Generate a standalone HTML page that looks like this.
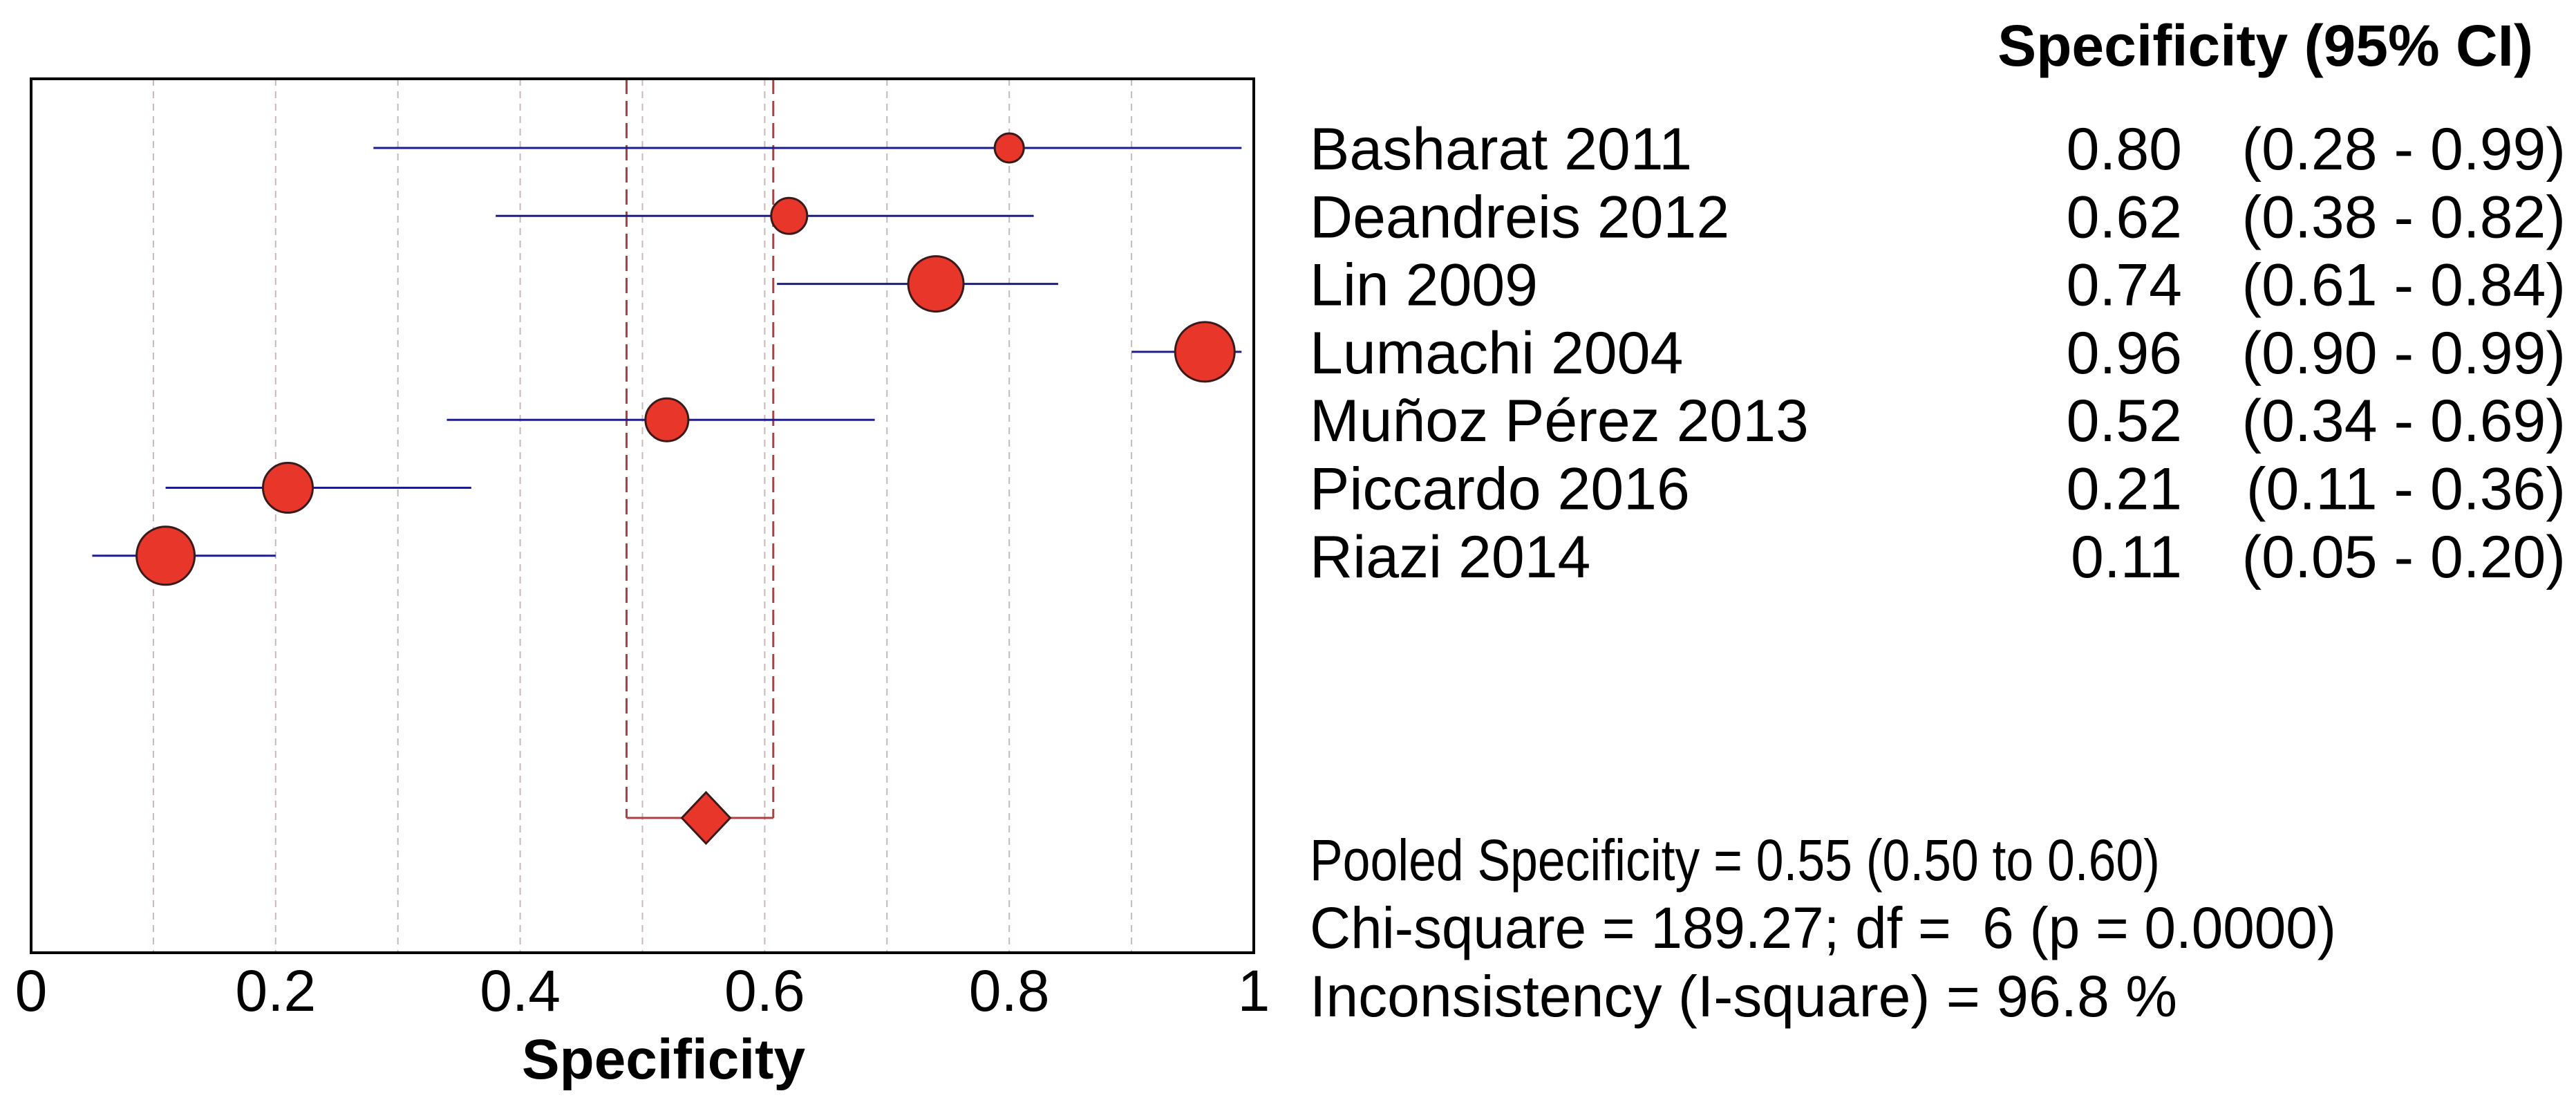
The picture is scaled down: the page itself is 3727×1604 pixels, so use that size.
<!DOCTYPE html>
<html><head><meta charset="utf-8"><style>
html,body{margin:0;padding:0;background:#fff;width:3727px;height:1604px;overflow:hidden}
svg{display:block}
text{font-family:"Liberation Sans",Arial,sans-serif;fill:#000}
</style></head><body>
<svg id="chart" width="3727" height="1604" viewBox="0 0 3727 1604">
<g id="grid"></g>
<g id="marks"></g>
<rect x="45" y="114" width="1769" height="1264" fill="none" stroke="#000" stroke-width="4"/>
<g id="ticks"></g>
<text x="960" y="1560" font-size="82" font-weight="bold" text-anchor="middle">Specificity</text>
<text x="3665" y="95" font-size="84" font-weight="bold" text-anchor="end">Specificity (95% CI)</text>
<g id="table"></g>
<text x="1895" y="1273" font-size="84" textLength="1230" lengthAdjust="spacingAndGlyphs">Pooled Specificity = 0.55 (0.50 to 0.60)</text>
<text x="1895" y="1371" font-size="84" xml:space="preserve" textLength="1485" lengthAdjust="spacingAndGlyphs">Chi-square = 189.27; df =  6 (p = 0.0000)</text>
<text x="1895" y="1470" font-size="84" textLength="1255" lengthAdjust="spacingAndGlyphs">Inconsistency (I-square) = 96.8 %</text>
</svg>
<script>
const studies=["Basharat 2011","Deandreis 2012","Lin 2009","Lumachi 2004","Muñoz Pérez 2013","Piccardo 2016","Riazi 2014"];
const spec=[0.80,0.62,0.74,0.96,0.52,0.21,0.11];
const lower=[0.28,0.38,0.61,0.90,0.34,0.11,0.05];
const upper=[0.99,0.82,0.84,0.99,0.69,0.36,0.20];
const weight=[21,26,40,43,31,36,42];
const pooled=[0.552,0.487,0.607];
const xTicks=[0,0.2,0.4,0.6,0.8,1];
const xTickLabels=["0","0.2","0.4","0.6","0.8","1"];
const NS="http://www.w3.org/2000/svg";
const X=v=>45+v*1769;
const rowY=i=>214+i*98.3;
const pooledY=1183;
function mk(tag,attrs,parent,text){const e=document.createElementNS(NS,tag);for(const k in attrs)e.setAttribute(k,attrs[k]);if(text!==undefined)e.textContent=text;document.getElementById(parent).appendChild(e);return e;}
for(let k=1;k<10;k++){const e=mk('line',{x1:X(k/10),x2:X(k/10),y1:114,y2:1378,stroke:'#c8b8b8','stroke-width':2,'stroke-dasharray':'10,8'},'grid');

}
[pooled[1],pooled[2]].forEach(v=>{const e=mk('line',{x1:X(v),x2:X(v),y1:114,y2:pooledY,stroke:'#b04040','stroke-width':3,'stroke-dasharray':'22,10'},'marks');

});
const br=mk('line',{x1:X(pooled[1]),x2:X(pooled[2]),y1:pooledY,y2:pooledY,stroke:'#b04040','stroke-width':3},'marks');


studies.forEach((s,i)=>{const y=rowY(i);
const l=mk('line',{x1:X(lower[i]),x2:X(upper[i]),y1:y,y2:y,stroke:'#1c1c8c','stroke-width':3},'marks');


const c=mk('circle',{cx:X(spec[i]),cy:y,r:weight[i],fill:'#e8372a',stroke:'#3a1a1a','stroke-width':3},'marks');


const ty=y+31;
const n=mk('text',{x:1895,y:ty,'font-size':86},'table',s);


const v=mk('text',{x:3157,y:ty,'font-size':86,'text-anchor':'end'},'table',spec[i].toFixed(2));


const ci=mk('text',{x:3712,y:ty,'font-size':86,'text-anchor':'end'},'table','('+lower[i].toFixed(2)+' - '+upper[i].toFixed(2)+')');


});
const d=mk('polygon',{points:[[X(pooled[0]),pooledY-37],[X(pooled[0])+35,pooledY],[X(pooled[0]),pooledY+37],[X(pooled[0])-35,pooledY]].map(p=>p.join(',')).join(' '),fill:'#e8372a',stroke:'#3a1a1a','stroke-width':3},'marks');


xTicks.forEach((t,i)=>{const e=mk('text',{x:X(t),y:1462,'font-size':84,'text-anchor':'middle'},'ticks',xTickLabels[i]);

});
</script>
</body></html>
